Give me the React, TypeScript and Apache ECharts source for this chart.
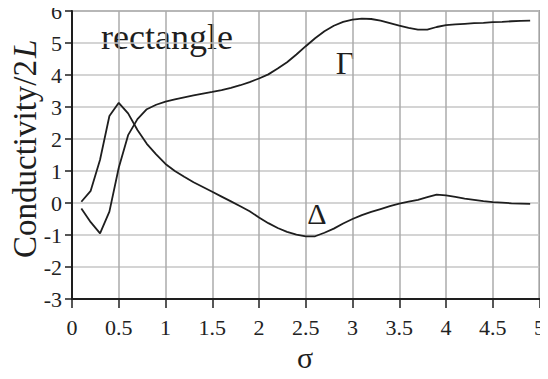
import React, { useEffect, useRef } from "react";
import * as echarts from "echarts";

// σ sample points shared by both curves
const sigma = [
  0.1, 0.2, 0.3, 0.4, 0.5, 0.6, 0.7, 0.8, 0.9, 1.0,
  1.1, 1.2, 1.3, 1.4, 1.5, 1.6, 1.7, 1.8, 1.9, 2.0,
  2.1, 2.2, 2.3, 2.4, 2.5, 2.6, 2.7, 2.8, 2.9, 3.0,
  3.1, 3.2, 3.3, 3.4, 3.5, 3.6, 3.7, 3.8, 3.9, 4.0,
  4.1, 4.2, 4.3, 4.4, 4.5, 4.6, 4.7, 4.8, 4.9,
];

// Γ conductivity component
const gamma = [
  -0.17, -0.6, -0.95, -0.27, 1.1, 2.12, 2.62, 2.93, 3.07, 3.17,
  3.24, 3.3, 3.36, 3.42, 3.47, 3.53, 3.6, 3.68, 3.78, 3.89,
  4.02, 4.2, 4.4, 4.64, 4.9, 5.15, 5.37, 5.54, 5.66, 5.73,
  5.76, 5.75, 5.7, 5.62, 5.54, 5.47, 5.42, 5.42, 5.5, 5.56,
  5.58, 5.6, 5.62, 5.63, 5.65, 5.66, 5.68, 5.69, 5.7,
];

// Δ conductivity component
const delta = [
  0.04, 0.38, 1.35, 2.72, 3.13, 2.8, 2.28, 1.85, 1.52, 1.22,
  1.0, 0.82, 0.65, 0.5, 0.35, 0.2, 0.05, -0.1, -0.26, -0.45,
  -0.63, -0.78, -0.9, -0.99, -1.04, -1.04, -0.93, -0.8, -0.64, -0.5,
  -0.38, -0.28, -0.19, -0.1, -0.02, 0.04, 0.1, 0.18, 0.26, 0.24,
  0.19, 0.14, 0.1, 0.06, 0.03, 0.01, -0.01, -0.02, -0.03,
];

const xTicks = ["0", "0.5", "1", "1.5", "2", "2.5", "3", "3.5", "4", "4.5", "5"];
const yTicks = ["-3", "-2", "-1", "0", "1", "2", "3", "4", "5", "6"];

const SERIF = "Liberation Serif, Times New Roman, serif";
const INK = "#1e1e1e";

export default function App() {
  const ref = useRef<HTMLDivElement>(null);

  useEffect(() => {
    if (!ref.current) return;
    const chart = echarts.init(ref.current, null, { renderer: "svg" });

    const pairs = (ys: number[]) => sigma.map((s, i) => [s, ys[i]]);
    const label = (text: string, x: number, y: number, size: number) => ({
      type: "text",
      x,
      y,
      style: { text, font: `normal ${size}px ${SERIF}`, fill: INK, align: "center", verticalAlign: "middle" },
    });

    chart.setOption({
      animation: false,
      textStyle: { fontFamily: SERIF },
      grid: {
        left: 72,
        right: 6,
        top: 11,
        bottom: 80,
        show: true,
        borderColor: "#8a8a8a",
        borderWidth: 2,
      },
      xAxis: {
        type: "value",
        min: 0,
        max: 5,
        interval: 0.5,
        axisLine: { show: true, onZero: false, lineStyle: { color: INK, width: 2 } },
        axisTick: { show: true, inside: false, length: 9, lineStyle: { color: INK, width: 1.5 } },
        axisLabel: {
          margin: 17,
          fontFamily: SERIF,
          fontSize: 22,
          color: "#222",
          formatter: (v: number) => xTicks[Math.round(v * 2)] ?? String(v),
        },
        splitLine: { show: true, lineStyle: { color: "#ababab", width: 1.5 } },
      },
      yAxis: {
        type: "value",
        min: -3,
        max: 6,
        interval: 1,
        axisLine: { show: true, onZero: false, lineStyle: { color: INK, width: 2 } },
        axisTick: { show: true, inside: false, length: 7, lineStyle: { color: INK, width: 1.5 } },
        axisLabel: {
          margin: 10,
          fontFamily: SERIF,
          fontSize: 22,
          color: "#222",
          formatter: (v: number) => yTicks[Math.round(v) + 3] ?? String(v),
        },
        splitLine: { show: true, lineStyle: { color: "#c6c6c6", width: 1.5 } },
      },
      series: [
        {
          name: "Γ",
          type: "line",
          data: pairs(gamma),
          showSymbol: false,
          lineStyle: { color: INK, width: 1.8 },
        },
        {
          name: "Δ",
          type: "line",
          data: pairs(delta),
          showSymbol: false,
          lineStyle: { color: INK, width: 1.8 },
        },
      ],
      graphic: [
        label("rectangle", 167, 37, 36),
        label("Γ", 345, 63, 32),
        label("Δ", 317, 213, 30),
        label("σ", 305, 357, 30),
        {
          type: "text",
          x: 25,
          y: 258,
          rotation: Math.PI / 2,
          style: { text: "Conductivity/2", font: `normal 33px ${SERIF}`, fill: INK, align: "left", verticalAlign: "middle" },
        },
        {
          type: "text",
          x: 25,
          y: 58,
          rotation: Math.PI / 2,
          style: { text: "L", font: `italic 33px ${SERIF}`, fill: INK, align: "left", verticalAlign: "middle" },
        },
      ],
    });

    return () => chart.dispose();
  }, []);

  return (
    <div style={{ margin: -8, fontFamily: "serif" }}>
      <div ref={ref} style={{ width: 548, height: 379 }} />
    </div>
  );
}
